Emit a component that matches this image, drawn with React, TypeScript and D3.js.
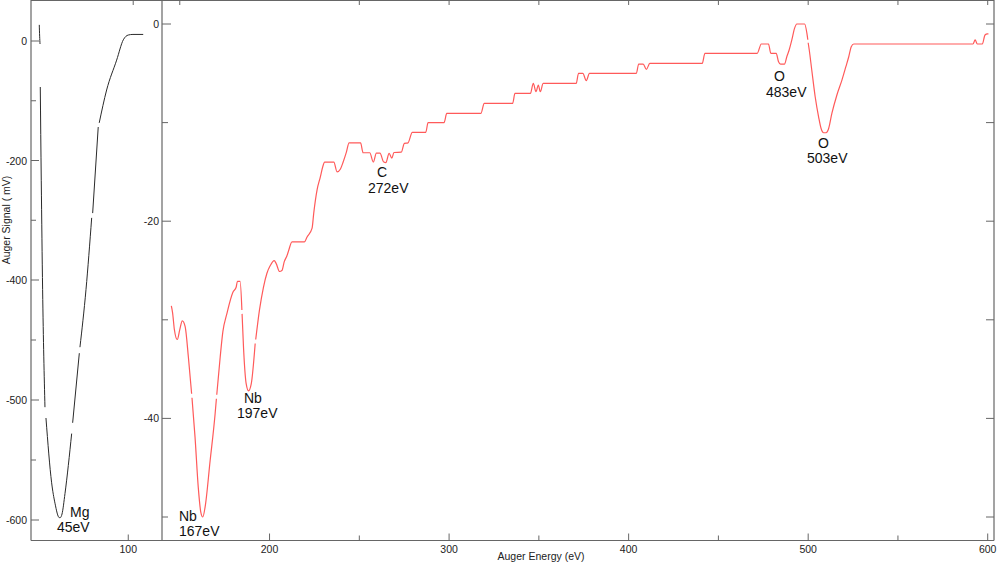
import React from "react";
import * as d3 from "d3";

// ---------- DATA ----------
// Left panel (Mg region), black trace. null = break in trace
const mgEnergy: (number | null)[] = [
  28.0, 28.3, 28.6, null,
  28.8, 29.6, 30.7, 32.6, null,
  33.4, 38.0, 40.7, 44.2, 45.0, 46.4, 48.8, 54.2, null,
  55.0, 60.4, null,
  60.9, 65.8, 70.4, null,
  71.2, 75.7, null,
  76.5, 82.5, 90.6, 96.0, 100.0, 103.8, 112.1,
];
const mgSignal: (number | null)[] = [
  27, 8, -5, null,
  -77, -233, -408, -506, null,
  -515, -569, -586, -598, -598, -595, -578, -528, null,
  -519, -461, null,
  -456, -408, -296, null,
  -288, -144, null,
  -137, -82, -32, 2, 10, 11, 11,
];

// Right panel, red trace
const redEnergy: (number | null)[] = [
  145.3, 146.0, 147.0, 148.6, 150.0, 151.4, 153.0, 154.8, 156.6, null,
  156.8, 158.5, 160.3, 161.7, 162.8, 164.1, 166.9, 169.7, 170.4, null,
  170.6, 172.5, 174.0, 176.2, 179.6, 181.4, 182.1, 183.6, 184.6, null,
  184.7, 185.5, 187.0, 188.3, 189.8, 192.0, null,
  192.3, 194.4, 196.6, 198.5, 200.4, 202.6, 203.7, 205.6, 206.9, 208.2, 209.7,
  210.6, 212.5, 219.4, 220.9, 223.7, 224.6, 226.5, 228.3, 229.6, 230.7, 235.8,
  237.6, 239.5, 241.0, 242.8, 244.3, 250.7, 252.1, 255.8, 257.8, 259.5, 261.5,
  263.6, 264.8, 266.6, 268.1, 269.3, 273.4, 275.1, 277.1, 279.5, 287.0, 288.3,
  297.2, 298.7, 317.7, 319.6, 335.4, 336.7, 345.3, 346.9, 348.4, 349.7, 350.8,
  352.4, 370.8, 372.1, 374.5, 376.4, 378.2, 404.3, 405.6, 408.1, 409.9, 411.8,
  441.0, 442.5, 471.6, 473.9, 477.9, 479.2, 482.2, 483.5, 484.6, 486.8, 488.1,
  489.4, 490.9, 492.4, 493.7, 498.0, 499.3, 499.8, null,
  500.0, 500.6, 502.0, 503.9, 505.8, 507.2, 508.6, 510.0, 511.4, 513.2, 516.0, 518.8,
  521.0, 522.6, 524.0, 525.4, 591.8, 593.0, 594.2, 597.0, 598.5, 599.8, 600.4,
];
const redSignal: (number | null)[] = [
  -28.6, -29.3, -31.0, -32.0, -31.0, -30.1, -30.7, -33.8, -37.5, null,
  -37.9, -41.9, -47.0, -49.5, -50.0, -49.0, -44.3, -39.5, -38.0, null,
  -37.6, -33.8, -31.2, -29.4, -27.2, -26.7, -26.1, -26.1, -29.0, null,
  -29.4, -32.8, -36.5, -37.2, -36.5, -32.4, null,
  -32.0, -29.0, -26.7, -25.3, -24.5, -24.0, -24.3, -25.1, -25.0, -24.1, -23.5,
  -23.0, -22.1, -22.1, -21.6, -20.7, -19.2, -16.8, -15.5, -14.5, -14.0, -14.0,
  -15.0, -14.7, -14.0, -13.0, -12.05, -12.05, -13.06, -13.06, -14.0, -13.1, -13.1,
  -14.0, -14.05, -13.13, -13.6, -13.03, -13.0, -12.1, -12.05, -11.0, -11.0, -10.0,
  -10.0, -9.07, -9.07, -8.05, -8.05, -7.04, -7.04, -6.02, -6.87, -6.19, -6.87,
  -6.02, -6.02, -5.0, -5.0, -5.75, -5.0, -5.0, -4.06, -4.06, -4.6, -4.0,
  -4.0, -2.98, -2.98, -2.03, -2.03, -2.98, -2.98, -3.83, -4.06, -4.06, -3.32,
  -2.64, -1.62, -0.44, 0.0, 0.0, -0.95, -1.6, null,
  -1.9, -2.64, -4.67, -7.38, -9.41, -10.6, -11.03, -11.03, -10.6, -9.07, -7.2, -5.69,
  -4.33, -3.32, -2.3, -2.03, -2.03, -1.62, -2.03, -2.03, -1.12, -1.0, -1.0,
];

// Tick values and labels
const leftYMajor = [0, -200, -400, -500, -600];
const leftYMajorLabels = ["0", "-200", "-400", "-500", "-600"];
const leftYMinor = [-100, -300, -450, -550];
const leftXTicks = [100];
const leftXTopTicks = [104];

const rightYMajor = [0, -20, -40];
const rightYMinor = [-10, -30, -50];
const rightYEdgeTicks = [0, -10, -20, -30, -40, -50];
const rightXMajor = [200, 300, 400, 500, 600];
const rightXMinor = [250, 350, 450, 550];
const rightXTopTicks = [150, 250, 300, 350, 400, 450, 500, 550, 600];

const peakLabels = [
  { el: "Mg", ev: "45eV", x1: 70, y1: 517, x2: 57, y2: 532 },
  { el: "Nb", ev: "167eV", x1: 179, y1: 521, x2: 179, y2: 536 },
  { el: "Nb", ev: "197eV", x1: 244, y1: 403, x2: 237, y2: 418 },
  { el: "C", ev: "272eV", x1: 377, y1: 177, x2: 368, y2: 193 },
  { el: "O", ev: "483eV", x1: 774, y1: 81, x2: 766, y2: 97 },
  { el: "O", ev: "503eV", x1: 818, y1: 148, x2: 807, y2: 163 },
];

// ---------- LAYOUT ----------
const W = 1005;
const H = 587;
const LX0 = 31;
const MID = 162;
const RX1 = 994;
const TOP = 0.5;
const BOT = 540.5;

const FONT = "'Liberation Sans', Arial, sans-serif";
const AXIS = "#666";
const TXT = "#222";

export default function App() {
  const xL = d3.scaleLinear().domain([21.3, 127.3]).range([LX0, MID]);
  const yL = d3.scaleLinear().domain([0, -400, -600]).range([41, 280, 520]);
  const xR = d3.scaleLinear().domain([140.1, 603.5]).range([MID, RX1]);
  const yR = d3.scaleLinear().domain([0, -50]).range([24, 517]);

  const mgPts = mgEnergy.map((e, i) => [e, mgSignal[i]] as [number | null, number | null]);
  const redPts = redEnergy.map((e, i) => [e, redSignal[i]] as [number | null, number | null]);

  const lineL = d3
    .line<[number | null, number | null]>()
    .defined((d) => d[0] != null && d[1] != null)
    .x((d) => xL(d[0] as number))
    .y((d) => yL(d[1] as number))
    .curve(d3.curveMonotoneX);
  const lineR = d3
    .line<[number | null, number | null]>()
    .defined((d) => d[0] != null && d[1] != null)
    .x((d) => xR(d[0] as number))
    .y((d) => yR(d[1] as number))
    .curve(d3.curveMonotoneX);

  return (
    <svg
      width={W}
      height={H}
      style={{ position: "absolute", left: 0, top: 0, background: "#fff" }}
      fontFamily={FONT}
    >
      <rect x={0} y={0} width={W} height={H} fill="#fff" />
      {/* frame */}
      <g stroke={AXIS} strokeWidth={1.2} fill="none">
        <line x1={LX0} y1={0} x2={LX0} y2={BOT} />
        <line x1={MID} y1={0} x2={MID} y2={BOT} />
        <line x1={RX1} y1={0} x2={RX1} y2={BOT} />
        <line x1={LX0} y1={BOT} x2={RX1} y2={BOT} />
        <line x1={LX0} y1={TOP} x2={RX1} y2={TOP} />
      </g>

      {/* ticks */}
      <g stroke={AXIS} strokeWidth={1}>
        {leftYMajor.map((v) => (
          <line key={"lm" + v} x1={LX0} x2={LX0 + 8} y1={yL(v)} y2={yL(v)} />
        ))}
        {leftYMinor.map((v) => (
          <line key={"ln" + v} x1={LX0} x2={LX0 + 5} y1={yL(v)} y2={yL(v)} />
        ))}
        {leftXTicks.map((v) => (
          <line key={"lx" + v} x1={xL(v)} x2={xL(v)} y1={BOT} y2={BOT - 6} />
        ))}
        {leftXTopTicks.map((v) => (
          <line key={"lt" + v} x1={xL(v)} x2={xL(v)} y1={0} y2={5} />
        ))}
        {rightYMajor.map((v) => (
          <line key={"rm" + v} x1={MID} x2={MID + 9} y1={yR(v)} y2={yR(v)} />
        ))}
        {rightYMinor.map((v) => (
          <line key={"rn" + v} x1={MID} x2={MID + 6} y1={yR(v)} y2={yR(v)} />
        ))}
        {rightYEdgeTicks.map((v) => (
          <line key={"re" + v} x1={RX1} x2={RX1 - 8} y1={yR(v)} y2={yR(v)} />
        ))}
        {rightXMajor.map((v) => (
          <line key={"rxm" + v} x1={xR(v)} x2={xR(v)} y1={BOT} y2={BOT - 7} />
        ))}
        {rightXMinor.map((v) => (
          <line key={"rxn" + v} x1={xR(v)} x2={xR(v)} y1={BOT} y2={BOT - 5} />
        ))}
        {rightXTopTicks.map((v) => (
          <line key={"rt" + v} x1={xR(v)} x2={xR(v)} y1={0} y2={5} />
        ))}
      </g>

      {/* tick labels */}
      <g fontSize={10.5} fill={TXT}>
        {leftYMajor.map((v, i) => (
          <text key={"lyl" + v} x={LX0 - 4} y={yL(v) + 4} textAnchor="end">
            {leftYMajorLabels[i]}
          </text>
        ))}
        {leftXTicks.map((v) => (
          <text key={"lxl" + v} x={xL(v)} y={553} textAnchor="middle">
            {String(v)}
          </text>
        ))}
        {rightYMajor.map((v) => (
          <text key={"ryl" + v} x={MID - 3} y={yR(v) + 4} textAnchor="end">
            {String(v)}
          </text>
        ))}
        {rightXMajor.map((v) => (
          <text key={"rxl" + v} x={xR(v)} y={553} textAnchor="middle">
            {String(v)}
          </text>
        ))}
        <text x={541} y={560} textAnchor="middle">
          Auger Energy (eV)
        </text>
        <text x={10} y={220} textAnchor="middle" transform="rotate(-90 10 220)">
          Auger Signal ( mV)
        </text>
      </g>

      {/* traces */}
      <path d={lineL(mgPts) ?? ""} fill="none" stroke="#2a2a2a" strokeWidth={1} />
      <path d={lineR(redPts) ?? ""} fill="none" stroke="#ff5a5a" strokeWidth={1.2} />

      {/* peak annotations */}
      <g fontSize={14} fill="#111">
        {peakLabels.map((p, i) => (
          <g key={"pk" + i}>
            <text x={p.x1} y={p.y1}>
              {p.el}
            </text>
            <text x={p.x2} y={p.y2}>
              {p.ev}
            </text>
          </g>
        ))}
      </g>
    </svg>
  );
}
